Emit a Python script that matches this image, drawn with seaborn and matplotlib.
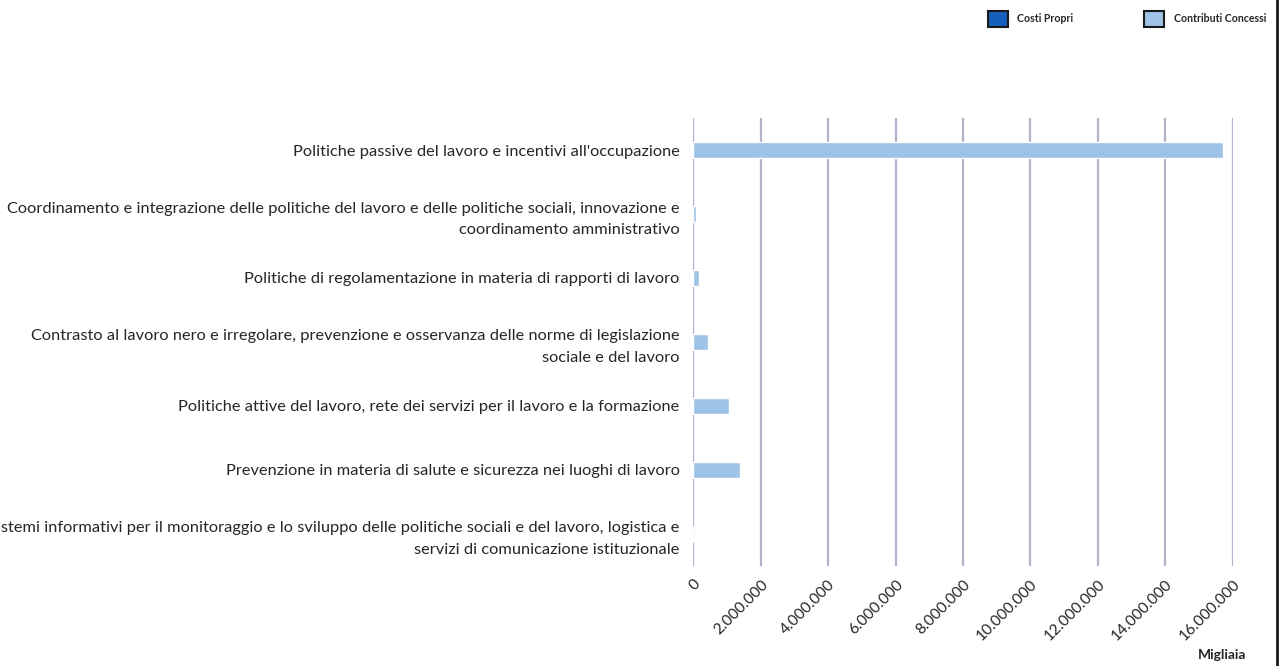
import pandas as pd
import seaborn as sns
import matplotlib.pyplot as plt
from matplotlib.patches import Patch
from matplotlib.lines import Line2D
from matplotlib.ticker import FuncFormatter

# dati (migliaia di euro)
missioni = [
    "Politiche passive del lavoro e incentivi all'occupazione",
    "Coordinamento e integrazione delle politiche del lavoro e delle politiche sociali, innovazione e\ncoordinamento amministrativo",
    "Politiche di regolamentazione in materia di rapporti di lavoro",
    "Contrasto al lavoro nero e irregolare, prevenzione e osservanza delle norme di legislazione\nsociale e del lavoro",
    "Politiche attive del lavoro, rete dei servizi per il lavoro e la formazione",
    "Prevenzione in materia di salute e sicurezza nei luoghi di lavoro",
    "Sistemi informativi per il monitoraggio e lo sviluppo delle politiche sociali e del lavoro, logistica e\nservizi di comunicazione istituzionale",
]
costi_propri = [0, 0, 0, 0, 0, 0, 0]
contributi_concessi = [15720000, 75000, 160000, 430000, 1050000, 1380000, 0]
serie = ["Costi Propri", "Contributi Concessi"]
colori = {"Costi Propri": "#1560bd", "Contributi Concessi": "#9dc3e6"}

df = pd.DataFrame({
    "Missione": missioni * 2,
    "Valore": costi_propri + contributi_concessi,
    "Serie": [serie[0]] * len(missioni) + [serie[1]] * len(missioni),
})

sns.set_theme(style="white")
plt.rcParams['font.family'] = ['Lato', 'DejaVu Sans']
testo = '#262626'

fig = plt.figure(figsize=(12.79, 6.66), dpi=100)
ax = fig.add_axes([0.5422, 0.1502, 0.4215, 0.6726])

sns.barplot(data=df, y="Missione", x="Valore", hue="Serie", order=missioni,
            hue_order=serie, palette=colori, dodge=False, width=0.25,
            saturation=1, orient='h', ax=ax, legend=False, zorder=3)

ax.set_xlim(0, 16000000)
ax.set_xticks(range(0, 16000001, 2000000))
ax.xaxis.set_major_formatter(FuncFormatter(lambda v, p: f"{int(v):,}".replace(",", ".")))
ax.grid(axis='x', color='#b3b1cc', linewidth=1.6, zorder=0)
ax.grid(axis='y', visible=False)
for s in ax.spines.values():
    s.set_visible(False)
ax.set_xlabel("")
ax.set_ylabel("")
ax.tick_params(axis='both', length=0, colors=testo)
ax.tick_params(axis='x', pad=8)
ax.tick_params(axis='y', pad=10)
for t in ax.get_xticklabels():
    t.set_rotation(45)
    t.set_ha('right')
    t.set_va('top')
    t.set_rotation_mode('anchor')
    t.set_fontsize(11.2)
for t in ax.get_yticklabels():
    t.set_fontsize(11.8)
    t.set_multialignment('right')
    t.set_linespacing(1.65)

# legenda in alto a destra, come nell'originale
maniglie = [Patch(facecolor=colori[s], edgecolor='#1a1a1a', linewidth=1.5, label=s) for s in serie]
fig.legend(handles=maniglie, loc='upper right', bbox_to_anchor=(0.9898, 0.984),
           ncol=2, frameon=False, prop={'weight': 'bold', 'size': 7.6},
           handlelength=1.9, handleheight=2.0, handletextpad=0.9,
           columnspacing=6.7, borderpad=0, borderaxespad=0)

fig.text(0.9555, 1 - 655 / 666, "Migliaia", ha='center', va='center',
         weight='bold', fontsize=10, color=testo)
fig.add_artist(Line2D([0.9985, 0.9985], [0, 1], transform=fig.transFigure,
                      color='#1a1a1a', linewidth=2))

fig.savefig("out.png", dpi=100)
